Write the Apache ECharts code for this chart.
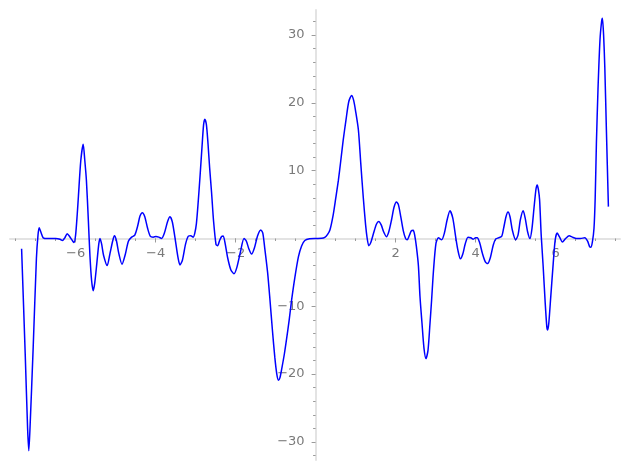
<!DOCTYPE html>
<html>
<head>
<meta charset="utf-8">
<script src="https://cdn.jsdelivr.net/npm/echarts@6/dist/echarts.min.js"></script>
<style>html,body{margin:0;padding:0;background:#fff}#c{width:630px;height:470px}</style>
</head>
<body>
<div id="c"></div>
<script>
var xs = [-7.35,-7.26,-7.2,-7.17,-7.14,-7.06,-6.98,-6.94,-6.91,-6.86,-6.81,-6.7,-6.5,-6.39,-6.33,-6.27,-6.21,-6.15,-6.07,-6.04,-6.0,-5.96,-5.93,-5.87,-5.81,-5.77,-5.73,-5.68,-5.64,-5.6,-5.56,-5.52,-5.47,-5.42,-5.39,-5.35,-5.3,-5.21,-5.14,-5.07,-5.03,-4.98,-4.92,-4.84,-4.76,-4.68,-4.6,-4.52,-4.45,-4.39,-4.33,-4.27,-4.2,-4.13,-4.06,-3.99,-3.92,-3.85,-3.78,-3.7,-3.64,-3.58,-3.5,-3.44,-3.39,-3.33,-3.25,-3.18,-3.12,-3.06,-3.02,-2.98,-2.94,-2.89,-2.84,-2.8,-2.77,-2.73,-2.69,-2.65,-2.6,-2.55,-2.49,-2.45,-2.4,-2.35,-2.31,-2.26,-2.2,-2.12,-2.04,-1.97,-1.88,-1.79,-1.73,-1.67,-1.6,-1.53,-1.45,-1.37,-1.32,-1.27,-1.2,-1.14,-1.08,-1.02,-0.97,-0.93,-0.89,-0.84,-0.78,-0.73,-0.66,-0.6,-0.52,-0.43,-0.35,-0.27,-0.15,0,0.15,0.23,0.3,0.36,0.44,0.5,0.57,0.63,0.69,0.76,0.83,0.9,0.95,1.0,1.07,1.13,1.19,1.25,1.29,1.33,1.38,1.45,1.52,1.58,1.64,1.7,1.77,1.83,1.9,1.96,2.02,2.07,2.13,2.19,2.25,2.29,2.34,2.39,2.44,2.48,2.52,2.57,2.61,2.66,2.71,2.76,2.81,2.86,2.9,2.95,3.01,3.07,3.15,3.22,3.29,3.36,3.43,3.5,3.56,3.62,3.68,3.74,3.81,3.88,3.94,4.0,4.04,4.1,4.17,4.24,4.3,4.37,4.44,4.5,4.57,4.65,4.7,4.76,4.81,4.86,4.92,5.0,5.06,5.12,5.19,5.24,5.3,5.36,5.41,5.46,5.51,5.54,5.57,5.6,5.64,5.69,5.74,5.78,5.8,5.83,5.88,5.94,5.99,6.04,6.1,6.17,6.25,6.34,6.42,6.52,6.62,6.73,6.8,6.85,6.88,6.92,6.96,6.99,7.02,7.06,7.11,7.15,7.17,7.2,7.23,7.27,7.32];
var ys = [-1.5,-17,-28,-31.3,-28,-16,-3,0.5,1.6,0.8,0.1,0,0,-0.1,-0.3,0.1,0.7,0.3,-0.4,-0.6,0.5,3.5,6.2,11.5,13.9,11.5,8.6,2.5,-2.7,-6.2,-7.7,-6.5,-3.7,-0.8,0,-0.8,-2.5,-4.0,-2.2,-0.3,0.4,-0.3,-2.2,-3.8,-2.4,-0.4,0.2,0.5,1.8,3.3,3.8,3.2,1.5,0.3,0.2,0.3,0.2,0.0,0.8,2.5,3.2,2.4,-0.5,-2.8,-3.9,-3.2,-0.8,0.35,0.4,0.2,0.8,2.2,5,9.1,13.5,16.8,17.6,16.8,14,10.5,6.7,2.5,-0.86,-1.06,-0.3,0.3,0.37,-0.8,-2.8,-4.6,-5.2,-4.3,-2,0.0,-0.4,-1.5,-2.3,-1.4,0.4,1.25,0.8,-1.5,-5,-9.1,-13.5,-17.5,-20,-20.9,-20.5,-19,-17,-15,-12,-9.1,-5.8,-2.7,-1.1,-0.3,-0.05,0,0.02,0.15,0.6,1.3,3.5,5.8,8.6,11.5,14.5,17.5,20.2,21.1,20.4,18.8,16,11,6.2,2,0,-1.06,-0.6,0.8,2.1,2.5,2.0,1.0,0.27,1.0,2.8,4.6,5.4,5.0,3.2,1.2,0.0,-0.2,0.4,1.1,1.2,0.4,-1.2,-4,-8.6,-12.5,-16.2,-17.7,-16.5,-12.5,-9.1,-4.5,-0.7,0.1,-0.2,0.8,2.8,4.1,3.0,0.3,-1.8,-3.0,-2.3,-0.8,0.2,0.1,-0.1,0.1,0.1,-0.6,-2.2,-3.4,-3.7,-2.8,-1.0,-0.1,0.1,0.3,1.5,3.2,3.9,3.2,1.2,-0.2,0.5,2.8,4.1,3.0,1.0,0,1.5,4.5,7.3,7.9,7.2,5.7,0.5,-4.2,-9.5,-13,-13.5,-12.5,-8.5,-3.7,-0.2,0.8,0.2,-0.5,0.0,0.4,0.2,0.0,0.0,0.1,-0.4,-1.2,-1.3,-0.5,1.5,6,14,22,29.3,32,32.5,30,25.3,16,4.7];
var xMajor = [-6,-4,-2,2,4,6];
var xMinor = [-7.5,-7,-6.5,-6,-5.5,-5,-4.5,-4,-3.5,-3,-2.5,-2,-1.5,-1,-0.5,0.5,1,1.5,2,2.5,3,3.5,4,4.5,5,5.5,6,6.5,7,7.5];
var yMajor = [-30,-20,-10,10,20,30];
var yMinor = [-32,-28,-26,-24,-22,-18,-16,-14,-12,-8,-6,-4,-2,2,4,6,8,12,14,16,18,22,24,26,28,32];

var data = xs.map(function(x,i){return [x, ys[i]];});
var fmt = function(v){ return v < 0 ? '\u2212' + Math.abs(v) : String(v); };
var lineCol = '#e3e3e3';
var tickCol = '#9a9a9a';
var labCol = '#7a7a7a';
var font = 'DejaVu Sans';
var X_MIN = -7.64, X_MAX = 7.61, Y_MIN = -32.67, Y_MAX = 33.7;
var GL = 10, GR = 10, GT = 10, GB = 10, W = 630, H = 470;
// offsets to put the axes through the origin
var xOff = -((H - GB - GT) * (0 - Y_MIN) / (Y_MAX - Y_MIN));
var yOff = -((W - GL - GR) * (0 - X_MIN) / (X_MAX - X_MIN));
var chart = echarts.init(document.getElementById('c'));
chart.setOption({
  animation: false,
  grid: {left: GL, right: GR, top: GT, bottom: GB, containLabel: false, outerBoundsMode: 'none'},
  xAxis: [{
    type: 'value', min: X_MIN, max: X_MAX, position: 'bottom', offset: xOff,
    axisLine: {onZero: false, lineStyle: {color: lineCol, width: 2}},
    axisTick: {show: true, customValues: xMajor, length: 4, lineStyle: {color: tickCol}},
    axisLabel: {show: true, customValues: xMajor, formatter: fmt, color: labCol, fontSize: 13, fontFamily: font, margin: 9},
    splitLine: {show: false}
  }, {
    type: 'value', min: X_MIN, max: X_MAX, position: 'bottom', offset: xOff,
    axisLine: {show: false, onZero: false},
    axisTick: {show: true, customValues: xMinor, length: 2.5, lineStyle: {color: tickCol}},
    axisLabel: {show: false},
    splitLine: {show: false}
  }],
  yAxis: [{
    type: 'value', min: Y_MIN, max: Y_MAX, position: 'left', offset: yOff,
    axisLine: {onZero: false, lineStyle: {color: lineCol, width: 2}},
    axisTick: {show: true, customValues: yMajor, length: 4, lineStyle: {color: tickCol}},
    axisLabel: {show: true, customValues: yMajor, formatter: fmt, color: labCol, fontSize: 13, fontFamily: font, margin: 11},
    splitLine: {show: false}
  }, {
    type: 'value', min: Y_MIN, max: Y_MAX, position: 'left', offset: yOff,
    axisLine: {show: false, onZero: false},
    axisTick: {show: true, customValues: yMinor, length: 2.5, lineStyle: {color: tickCol}},
    axisLabel: {show: false},
    splitLine: {show: false}
  }],
  series: [{
    type: 'line', data: data, showSymbol: false, smooth: 0.25,
    lineStyle: {color: '#0000ff', width: 1.5},
    xAxisIndex: 0, yAxisIndex: 0
  }]
});
</script>
</body>
</html>
